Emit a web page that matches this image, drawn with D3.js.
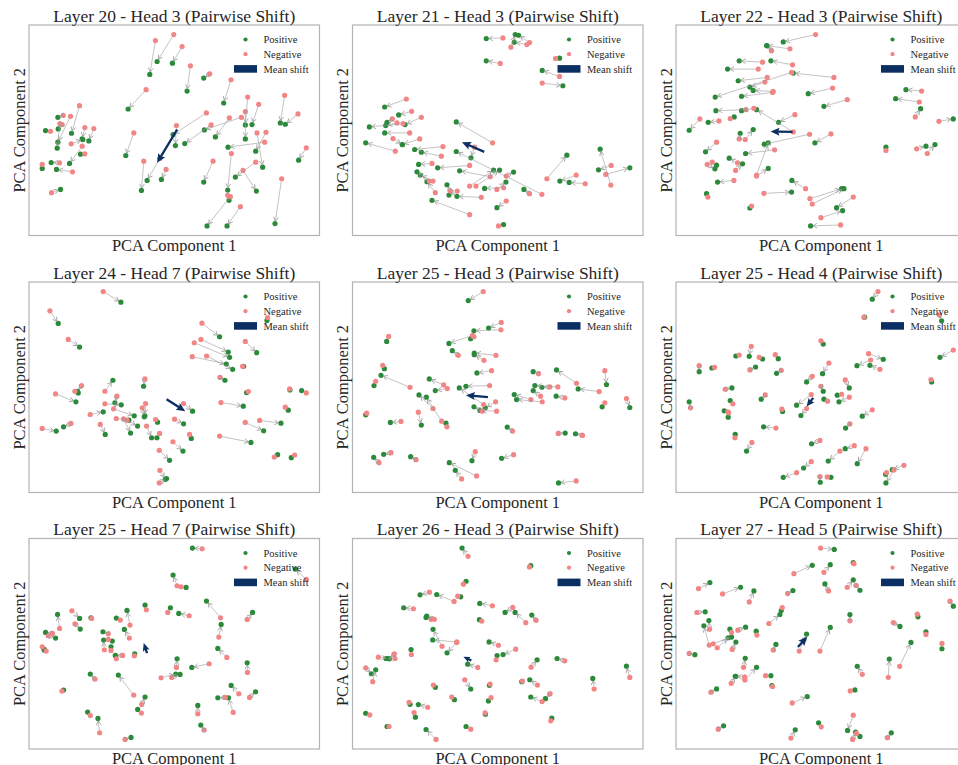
<!DOCTYPE html>
<html>
<head>
<meta charset="utf-8">
<script src="https://cdn.jsdelivr.net/npm/d3@7"></script>
<style>
  body { margin: 0; background: #fff; }
</style>
</head>
<body>
<div id="chart"></div>
<script>
// panel titles, row by row
const titles = [
    'Layer 20 - Head 3 (Pairwise Shift)', 'Layer 21 - Head 3 (Pairwise Shift)', 'Layer 22 - Head 3 (Pairwise Shift)',
    'Layer 24 - Head 7 (Pairwise Shift)', 'Layer 25 - Head 3 (Pairwise Shift)', 'Layer 25 - Head 4 (Pairwise Shift)',
    'Layer 25 - Head 7 (Pairwise Shift)', 'Layer 26 - Head 3 (Pairwise Shift)', 'Layer 27 - Head 5 (Pairwise Shift)'
]

const legendLabels = ['Positive', 'Negative', 'Mean shift']

// each pair: [negative PC1, negative PC2, positive PC1, positive PC2]
const pairsL20H3 = [
    [5.20,-1.04,4.70,-1.85],[4.65,-1.22,4.48,-2.24],[5.45,-1.40,5.16,-1.90],[5.70,-1.98,5.60,-2.74],
    [6.28,-2.22,6.10,-2.35],[4.37,-2.70,3.83,-3.28],[6.92,-2.40,6.70,-3.10],[7.42,-2.92,7.35,-3.76],
    [7.75,-3.14,7.55,-3.75],[7.35,-3.36,7.35,-4.18],[8.53,-2.87,8.40,-3.70],[8.93,-3.43,8.55,-3.74],
    [6.87,-3.55,6.45,-4.12],[7.23,-3.53,6.12,-3.91],[6.32,-3.76,5.53,-4.32],[6.18,-3.40,5.18,-4.05],
    [5.28,-3.78,5.25,-4.38],[7.70,-4.00,7.87,-5.03],[7.97,-3.98,7.66,-4.55],[7.93,-4.28,6.83,-4.43],
    [9.18,-4.45,8.95,-4.82],[6.93,-4.62,6.82,-5.72],[6.38,-4.85,6.10,-5.48],[7.66,-4.88,7.05,-5.33],
    [7.28,-5.13,7.68,-5.75],[6.90,-5.92,6.20,-6.80],[7.20,-6.22,6.80,-6.80],[8.44,-5.38,8.24,-6.73],
    [6.82,-5.88,6.86,-6.03],[4.00,-4.00,3.76,-4.68],[4.30,-4.85,4.23,-5.73],[4.78,-4.77,4.40,-5.43],
    [4.97,-5.10,4.83,-5.40],[2.37,-3.18,2.13,-4.01],[1.88,-3.47,1.72,-3.53],[2.10,-3.50,1.72,-4.28],
    [1.85,-3.75,1.73,-3.88],[1.78,-3.72,1.70,-4.46],[1.50,-3.95,1.35,-3.93],[2.53,-3.84,2.45,-4.18],
    [2.80,-3.87,2.65,-4.24],[2.12,-4.33,2.47,-4.20],[2.53,-4.63,2.40,-4.64],[2.45,-4.40,2.07,-4.92],
    [1.77,-4.90,1.52,-4.89],[2.16,-5.17,1.68,-5.10],[1.25,-4.95,1.25,-5.07],[1.53,-5.80,1.80,-5.70]
]

const pairsL21H3 = [
    [5.18,-1.14,4.68,-1.16],[5.98,-1.28,5.65,-1.06],[5.90,-1.34,5.52,-1.27],[5.42,-1.42,5.55,-1.04],
    [5.10,-1.91,4.68,-1.83],[6.76,-1.76,6.88,-1.75],[6.88,-2.30,6.36,-2.12],[6.36,-2.50,6.98,-2.58],
    [2.28,-2.98,1.63,-3.22],[2.44,-3.35,2.05,-3.46],[2.73,-3.53,2.24,-3.75],[1.86,-3.58,1.70,-3.68],
    [2.00,-3.70,1.66,-3.78],[2.18,-3.72,1.17,-3.82],[2.38,-4.00,1.63,-4.00],[1.88,-4.17,2.16,-4.35],
    [2.68,-4.18,2.16,-4.35],[1.95,-4.55,1.06,-4.30],[3.38,-4.41,2.53,-4.50],[3.33,-4.70,2.73,-4.58],
    [4.87,-4.30,3.78,-3.67],[4.33,-4.43,4.22,-4.75],[4.18,-4.98,3.22,-5.05],[3.05,-4.92,2.65,-4.95],
    [2.97,-5.45,2.60,-5.17],[3.08,-5.45,2.70,-5.27],[3.15,-5.80,2.90,-5.47],[3.60,-5.75,3.50,-5.56],
    [3.81,-5.75,3.56,-5.87],[4.53,-5.94,3.80,-5.91],[4.18,-6.46,3.05,-6.03],[5.28,-6.05,5.00,-6.25],
    [5.05,-6.80,5.20,-6.76],[4.37,-5.60,5.08,-5.12],[4.18,-5.60,4.90,-5.12],[4.80,-5.32,3.88,-5.14],
    [6.35,-5.85,3.78,-4.56],[5.98,-5.83,5.81,-5.70],[5.00,-5.70,5.27,-5.48],[5.20,-5.65,4.63,-5.67],
    [5.28,-5.30,5.50,-5.18],[6.50,-5.38,7.10,-4.67],[7.38,-5.27,6.89,-5.45],[7.65,-5.53,7.17,-5.49],
    [8.42,-5.57,8.10,-4.49],[8.27,-5.25,8.99,-5.05],[8.43,-4.98,8.05,-5.11]
]

const pairsL22H3 = [
    [5.27,-1.04,4.30,-1.26],[4.50,-1.47,3.80,-1.37],[3.95,-1.53,3.82,-1.38],[3.68,-1.87,2.98,-1.83],
    [4.58,-1.95,3.93,-1.83],[3.55,-2.08,2.63,-2.08],[3.82,-2.33,2.95,-2.43],[3.75,-2.47,3.30,-2.62],
    [4.55,-2.18,2.26,-2.92],[5.82,-2.33,4.60,-2.20],[4.00,-2.75,3.40,-2.72],[3.98,-2.78,3.05,-2.90],
    [5.78,-2.65,5.05,-2.82],[6.22,-3.00,5.52,-3.20],[3.18,-3.30,2.28,-3.33],[3.42,-3.26,3.05,-3.33],
    [4.65,-3.45,4.16,-3.68],[4.60,-3.97,3.50,-3.30],[2.71,-3.57,2.83,-3.52],[2.37,-3.64,2.05,-3.68],
    [1.80,-3.58,1.48,-3.92],[3.16,-4.20,3.40,-3.90],[2.98,-4.18,3.01,-4.01],[2.30,-4.28,1.97,-4.57],
    [4.04,-4.51,3.17,-4.62],[5.09,-4.04,3.73,-4.34],[5.73,-4.03,5.25,-4.30],[3.50,-5.27,3.85,-4.30],
    [2.93,-4.90,2.68,-4.76],[2.17,-4.88,2.30,-4.97],[2.87,-5.13,3.08,-4.93],[2.02,-4.95,2.25,-5.08],
    [3.50,-5.30,3.85,-5.07],[2.82,-5.43,2.33,-5.48],[3.72,-5.82,4.55,-5.78],[2.04,-5.93,2.00,-5.83],
    [3.35,-6.20,3.30,-6.26],[4.97,-5.68,4.56,-5.43],[5.10,-5.98,6.05,-5.68],[5.17,-6.14,6.12,-5.68],
    [6.40,-5.93,5.90,-6.25],[5.43,-6.55,6.08,-6.34],[6.02,-6.77,5.12,-6.80],[7.38,-4.53,7.38,-4.43],
    [8.45,-2.74,7.98,-2.70],[8.38,-3.07,7.67,-2.97],[8.26,-3.52,8.42,-3.27],[8.97,-3.65,9.40,-3.58],
    [8.30,-4.48,8.58,-4.40],[8.62,-4.62,8.85,-4.35]
]

const pairsL24H7 = [
    [3.07,-1.00,3.60,-1.32],[1.47,-1.58,1.72,-1.96],[2.02,-2.44,2.36,-2.67],[6.03,-1.95,6.56,-2.36],
    [6.00,-2.44,6.82,-2.82],[5.80,-2.54,6.86,-2.98],[5.74,-2.96,6.76,-3.18],[6.17,-2.94,6.95,-3.34],
    [7.33,-2.50,7.67,-2.84],[7.25,-3.25,7.28,-3.25],[6.57,-3.58,6.72,-3.67],[8.00,-1.78,7.98,-1.87],
    [3.12,-4.00,3.36,-3.67],[4.32,-3.63,4.28,-3.85],[2.42,-3.83,2.30,-4.00],[2.22,-4.00,2.32,-4.05],
    [1.64,-4.08,2.25,-4.32],[3.48,-4.15,3.42,-4.35],[3.12,-4.38,3.61,-4.41],[2.68,-4.70,3.07,-4.62],
    [3.38,-4.53,4.00,-4.74],[4.34,-4.37,4.32,-4.74],[4.24,-4.50,4.30,-4.77],[3.46,-4.82,3.84,-4.87],
    [3.68,-4.83,3.89,-5.26],[3.78,-4.87,4.10,-5.05],[2.98,-5.00,3.13,-5.30],[4.37,-5.05,4.52,-5.40],
    [4.76,-5.27,4.68,-5.40],[4.64,-4.85,4.70,-4.93],[5.21,-4.84,5.48,-4.98],[5.48,-4.37,5.75,-4.60],
    [5.66,-5.30,5.71,-5.42],[1.24,-5.12,1.66,-5.20],[2.10,-4.97,1.88,-5.07],[4.75,-5.78,5.06,-6.08],
    [5.16,-5.52,5.46,-5.80],[4.77,-6.38,4.93,-6.65],[4.75,-6.76,4.97,-6.63],[6.60,-4.34,7.27,-4.45],
    [7.42,-4.01,7.37,-4.04],[7.33,-4.94,7.88,-5.19],[7.76,-4.88,8.40,-4.96],[6.56,-5.35,7.50,-5.54],
    [8.53,-4.48,8.62,-4.57],[8.66,-3.93,8.67,-3.96],[9.16,-4.05,9.02,-3.98],[8.20,-5.98,8.30,-5.91],
    [8.81,-5.92,8.71,-6.00]
]

const pairsL25H3 = [
    [4.60,-1.00,4.15,-1.27],[5.14,-1.93,4.76,-2.10],[5.13,-2.15,4.32,-2.18],[4.28,-2.32,3.57,-2.56],
    [4.32,-2.36,4.22,-2.42],[3.85,-2.92,3.67,-2.78],[4.98,-2.92,4.33,-2.85],[4.62,-3.07,4.33,-2.90],
    [4.85,-3.38,4.41,-3.45],[1.76,-2.35,1.70,-2.50],[1.58,-3.22,1.63,-3.32],[2.40,-3.88,1.53,-3.52],
    [1.37,-3.70,1.32,-3.83],[1.10,-4.66,1.07,-4.71],[3.41,-3.81,2.98,-3.63],[3.52,-3.92,3.16,-3.98],
    [4.79,-3.83,4.08,-3.85],[4.61,-4.40,3.88,-3.90],[2.65,-4.63,2.74,-5.02],[2.13,-4.91,1.81,-4.94],
    [3.09,-4.52,2.67,-4.11],[3.35,-4.90,2.89,-4.18],[3.51,-5.07,3.48,-4.96],[4.97,-4.32,4.66,-4.50],
    [5.00,-4.60,4.50,-4.58],[4.57,-4.60,4.32,-4.47],[5.48,-5.20,5.32,-5.08],[6.26,-3.47,6.10,-3.41],
    [6.84,-3.87,6.15,-3.83],[7.40,-3.76,6.80,-3.36],[8.08,-4.01,7.45,-3.93],[8.25,-3.38,8.30,-3.80],
    [8.25,-4.35,8.17,-4.47],[8.90,-4.22,9.00,-4.49],[6.03,-4.25,5.53,-4.10],[6.37,-4.32,5.60,-4.25],
    [6.60,-3.87,6.36,-3.88],[6.32,-4.15,6.10,-3.98],[7.05,-4.20,6.79,-4.15],[6.85,-5.27,7.06,-5.26],
    [7.58,-5.33,7.37,-5.28],[1.83,-5.85,1.61,-5.90],[1.47,-6.15,1.31,-5.99],[2.58,-6.06,2.42,-5.97],
    [4.36,-5.82,4.26,-6.09],[5.51,-5.91,5.15,-6.02],[3.95,-6.64,3.76,-6.38],[4.40,-6.55,3.58,-6.15],
    [7.39,-6.70,6.86,-6.76]
]

const pairsL25H4 = [
    [7.14,-1.00,6.97,-1.23],[6.72,-1.77,6.74,-1.77],[8.98,-1.70,9.05,-1.88],[9.40,-2.76,9.00,-2.98],
    [8.73,-3.65,8.75,-3.72],[5.43,-2.48,5.50,-2.58],[3.34,-2.65,3.28,-2.95],[2.98,-2.91,2.88,-2.94],
    [3.58,-2.98,3.68,-3.03],[4.06,-2.90,4.15,-3.02],[3.30,-3.36,3.47,-3.27],[1.78,-3.23,1.78,-3.41],
    [2.24,-3.28,2.16,-3.30],[4.24,-3.37,4.10,-3.46],[6.86,-2.87,7.30,-3.04],[6.92,-3.06,6.51,-3.23],
    [7.20,-3.34,6.90,-3.22],[5.67,-3.15,5.48,-3.47],[5.17,-3.55,5.00,-3.72],[6.16,-3.66,6.28,-3.90],
    [5.43,-3.85,5.50,-4.00],[5.63,-4.30,5.52,-4.24],[6.05,-4.09,5.92,-4.12],[6.28,-4.18,5.97,-4.32],
    [5.14,-4.10,4.70,-4.42],[5.00,-4.52,4.83,-4.73],[2.56,-3.94,2.76,-3.90],[2.79,-4.38,2.71,-4.28],
    [2.64,-4.62,2.53,-4.59],[2.66,-4.65,2.65,-4.78],[1.52,-4.50,1.48,-4.32],[3.76,-4.11,3.64,-4.24],
    [4.26,-4.54,4.28,-4.61],[4.08,-5.11,3.71,-5.07],[2.85,-5.40,2.86,-5.30],[3.36,-5.54,3.20,-5.80],
    [6.97,-4.56,6.67,-4.75],[6.30,-4.98,6.17,-5.11],[5.40,-5.48,5.15,-5.58],[6.43,-5.64,6.16,-5.73],
    [6.00,-5.80,5.65,-6.10],[6.78,-5.73,6.52,-6.18],[5.14,-6.12,4.91,-6.31],[4.70,-6.45,4.30,-6.59],
    [5.40,-6.57,5.41,-6.74],[5.62,-6.58,5.73,-6.59],[7.92,-6.23,7.57,-6.36],[7.40,-6.45,7.37,-6.50],
    [7.62,-6.37,7.38,-6.76]
]

const pairsL25H7 = [
    [6.03,-1.11,5.74,-1.09],[9.15,-2.03,8.82,-1.72],[5.28,-2.22,5.16,-1.90],[5.40,-2.25,5.55,-2.27],
    [4.36,-2.94,4.32,-2.80],[5.00,-3.02,5.08,-2.88],[5.64,-3.12,5.33,-3.05],[6.58,-3.18,6.16,-2.68],
    [6.53,-3.76,6.60,-3.38],[7.38,-3.23,7.54,-3.02],[1.76,-3.50,1.70,-3.08],[2.13,-2.97,2.36,-3.20],
    [2.22,-3.36,2.38,-3.52],[2.72,-3.20,2.70,-3.18],[1.55,-3.65,1.34,-3.62],[1.42,-3.72,1.64,-3.79],
    [1.24,-4.05,1.30,-4.15],[1.36,-4.18,1.30,-4.13],[3.58,-3.25,3.46,-3.19],[3.87,-3.40,3.78,-2.96],
    [3.85,-3.79,3.70,-3.53],[3.22,-3.66,3.06,-3.60],[3.22,-3.83,3.34,-3.88],[3.10,-4.14,3.08,-3.85],
    [3.30,-4.16,3.30,-4.05],[3.65,-4.31,3.43,-4.31],[3.46,-4.41,3.44,-4.32],[4.00,-4.32,4.01,-4.26],
    [6.77,-4.37,6.50,-4.10],[6.24,-4.56,5.72,-4.67],[5.26,-4.67,5.28,-4.41],[4.80,-4.98,5.24,-4.87],
    [5.12,-4.97,5.37,-4.88],[7.39,-4.82,7.38,-4.53],[2.82,-5.02,2.68,-4.87],[1.83,-5.38,1.88,-5.35],
    [3.98,-5.50,3.52,-4.90],[4.22,-5.78,4.32,-5.56],[4.21,-6.04,4.10,-5.93],[2.68,-6.11,2.60,-6.01],
    [2.96,-6.63,2.91,-6.20],[3.72,-6.83,3.90,-6.77],[5.90,-6.06,5.90,-5.81],[6.09,-6.55,5.99,-6.40],
    [6.72,-5.57,6.50,-5.58],[7.13,-5.46,6.90,-5.21],[6.96,-6.02,6.82,-5.58],[7.45,-5.57,7.63,-5.40]
]

const pairsL26H3 = [
    [4.14,-1.32,3.96,-1.07],[5.98,-1.64,6.02,-1.60],[4.00,-2.16,4.08,-2.07],[2.98,-2.40,2.70,-2.48],
    [3.72,-2.68,3.20,-2.47],[3.83,-2.52,3.92,-2.54],[2.50,-2.90,2.21,-2.87],[4.87,-2.81,4.49,-2.74],
    [5.48,-2.86,5.25,-3.01],[5.87,-3.32,5.55,-3.01],[6.18,-3.25,6.05,-3.09],[4.55,-3.27,4.48,-3.23],
    [3.13,-3.22,2.90,-3.12],[3.03,-3.22,2.88,-3.16],[3.80,-3.90,3.08,-3.84],[3.36,-4.03,3.09,-3.52],
    [3.80,-3.92,3.51,-4.23],[5.05,-4.00,4.77,-3.90],[5.57,-4.12,5.19,-4.28],[4.98,-4.44,5.01,-4.31],
    [1.93,-4.26,1.78,-4.41],[1.45,-4.36,1.74,-4.40],[1.95,-4.40,1.68,-4.40],[2.44,-4.28,2.43,-4.13],
    [1.07,-4.68,1.24,-4.86],[1.28,-5.10,1.37,-4.74],[4.43,-4.67,4.13,-4.57],[6.03,-4.66,6.21,-4.44],
    [7.04,-4.47,6.81,-4.40],[8.99,-4.97,8.89,-4.63],[7.92,-5.32,7.88,-5.00],[4.04,-5.04,4.22,-5.32],
    [3.10,-5.20,3.16,-5.27],[4.80,-5.17,4.78,-5.21],[5.77,-5.08,5.75,-5.10],[6.22,-5.20,5.99,-5.04],
    [3.65,-5.56,3.73,-5.64],[4.83,-5.58,4.75,-5.68],[6.60,-5.46,6.46,-5.61],[6.36,-5.70,6.02,-5.56],
    [2.37,-5.72,2.40,-5.78],[2.93,-5.87,2.65,-5.79],[2.52,-6.03,2.56,-6.17],[4.65,-6.04,4.66,-6.08],
    [1.19,-6.10,1.07,-6.05],[1.77,-6.45,1.71,-6.45],[6.62,-6.28,6.65,-6.20],[4.22,-6.53,4.08,-6.45],
    [3.18,-6.84,2.88,-6.54]
]

const pairsL27H5 = [
    [5.42,-1.08,5.83,-1.12],[4.62,-1.85,5.17,-1.60],[5.52,-1.81,5.71,-1.58],[6.42,-1.55,6.40,-1.52],
    [1.76,-2.30,2.10,-2.12],[2.48,-2.46,3.02,-2.26],[3.28,-2.70,3.42,-2.37],[4.43,-2.45,4.59,-2.36],
    [5.66,-2.37,5.55,-2.16],[6.22,-2.26,6.40,-2.04],[6.48,-2.20,6.60,-2.35],[9.30,-2.68,9.40,-2.83],
    [1.71,-3.02,1.96,-3.00],[2.09,-3.52,2.07,-3.26],[2.08,-4.00,1.92,-3.42],[2.75,-3.62,2.70,-3.52],
    [2.94,-3.55,3.17,-3.46],[3.51,-3.70,3.49,-3.58],[3.87,-3.35,4.20,-3.08],[4.27,-2.87,4.24,-2.96],
    [6.30,-3.27,6.30,-3.08],[7.60,-3.32,7.80,-3.44],[8.32,-3.07,8.34,-3.15],[8.58,-3.68,8.58,-3.60],
    [9.06,-3.95,9.06,-4.11],[1.48,-4.25,1.65,-4.29],[2.20,-3.96,2.75,-3.76],[2.32,-4.08,2.65,-3.78],
    [2.77,-4.13,2.88,-3.91],[4.00,-4.15,4.08,-3.98],[4.78,-4.18,5.00,-3.67],[5.40,-4.18,5.71,-3.47],
    [7.79,-4.64,8.13,-3.92],[7.45,-4.97,7.48,-4.42],[6.67,-4.88,6.52,-4.64],[3.11,-4.67,3.16,-4.40],
    [3.15,-5.05,3.50,-4.67],[2.74,-5.15,2.88,-4.94],[3.14,-4.96,2.86,-4.94],[3.77,-4.92,3.93,-4.92],
    [3.98,-5.25,3.96,-5.22],[2.13,-5.42,2.30,-5.32],[6.31,-5.38,6.45,-5.35],[4.57,-5.74,5.02,-5.55],
    [2.35,-6.53,2.51,-6.43],[4.53,-6.80,4.66,-6.55],[5.44,-6.46,5.36,-6.34],[6.40,-6.11,6.23,-6.57],
    [6.50,-6.66,6.60,-6.75],[6.38,-6.84,6.47,-6.62],[7.42,-6.79,7.54,-6.64]
]

// mean shift arrow per panel: [from PC1, from PC2, to PC1, to PC2]
const meanShifts = [
    [5.30,-3.90,4.70,-4.90], [4.62,-4.57,3.95,-4.28], [4.58,-3.97,3.92,-3.96],
    [4.97,-4.24,5.53,-4.60], [4.74,-4.18,4.08,-4.12], [5.20,-4.20,5.00,-4.46],
    [4.38,-4.24,4.28,-3.94], [4.24,-4.46,4.00,-4.35], [4.74,-4.06,5.02,-3.75]
]

const panelPairs = [pairsL20H3, pairsL21H3, pairsL22H3, pairsL24H7, pairsL25H3,
    pairsL25H4, pairsL25H7, pairsL26H3, pairsL27H5]

const posColor = '#2b8a3a'
const negColor = '#f28585'
const shiftColor = '#0c2f63'
const lineColor = '#9a9a9a'
const serif = '"Liberation Serif", "Times New Roman", Times, "DejaVu Serif", serif'

const config = {
    width: 958,
    height: 765,
    colLeft: [29, 352.5, 676],
    rowTop: [25, 282, 538.5],
    panelWidth: 290.5,
    panelHeight: 210.5
}

const svg = d3.select('#chart').append('svg')
    .attr('width', config.width)
    .attr('height', config.height)
    .attr('font-family', serif)

// small open arrowhead for the pair lines
svg.append('defs').append('marker')
    .attr('id', 'chev')
    .attr('markerUnits', 'userSpaceOnUse')
    .attr('markerWidth', 8)
    .attr('markerHeight', 8)
    .attr('refX', 4.5)
    .attr('refY', 3)
    .attr('orient', 'auto')
    .append('path')
    .attr('d', 'M0.5,0.6 L4.5,3 L0.5,5.4')
    .attr('fill', 'none')
    .attr('stroke', lineColor)
    .attr('stroke-width', 0.8)

function shorten(x1, y1, x2, y2, a, b) {
    const L = Math.hypot(x2 - x1, y2 - y1)
    if (L < a + b + 0.5) return null
    const ux = (x2 - x1) / L, uy = (y2 - y1) / L
    return [x1 + ux * a, y1 + uy * a, x2 - ux * b, y2 - uy * b]
}

// quiver-like filled arrow polygon in pixel space
function arrowPath(sx, sy, ex, ey) {
    const L = Math.hypot(ex - sx, ey - sy)
    const ux = (ex - sx) / L, uy = (ey - sy) / L
    const nx = -uy, ny = ux
    const k = Math.min(1, L / 12)
    const w = 2.3, hl = 9 * k, ha = 7.8 * k, hw = 8 * k
    const pt = (a, b) => [sx + ux * a + nx * b, sy + uy * a + ny * b]
    const pts = [pt(0, w / 2), pt(L - ha, w / 2), pt(L - hl, hw / 2), pt(L, 0),
        pt(L - hl, -hw / 2), pt(L - ha, -w / 2), pt(0, -w / 2)]
    return 'M' + pts.map(p => p.join(',')).join('L') + 'Z'
}

function addText(sel, size) {
    return sel.append('text')
        .style('font-family', serif)
        .style('font-size', size)
        .attr('fill', '#262626')
}

panelPairs.forEach((pairs, i) => {
    const left = config.colLeft[i % 3]
    const top = config.rowTop[Math.floor(i / 3)]
    const w = config.panelWidth, h = config.panelHeight

    // axis limits: data extent with 5% margins
    const xExt = d3.extent(pairs.flatMap(d => [d[0], d[2]]))
    const yExt = d3.extent(pairs.flatMap(d => [d[1], d[3]]))
    const dx = (xExt[1] - xExt[0]) * 0.05, dy = (yExt[1] - yExt[0]) * 0.05
    const xScale = d3.scaleLinear().domain([xExt[0] - dx, xExt[1] + dx]).range([0, w])
    const yScale = d3.scaleLinear().domain([yExt[0] - dy, yExt[1] + dy]).range([h, 0])

    const g = svg.append('g').attr('transform', `translate(${left},${top})`)

    g.append('rect')
        .attr('width', w)
        .attr('height', h)
        .attr('fill', 'none')
        .attr('stroke', '#b3b3b3')
        .attr('stroke-width', 1.2)

    // positive and negative points
    g.selectAll('.pos')
        .data(pairs)
        .join('circle')
        .attr('class', 'pos')
        .attr('cx', d => xScale(d[2]))
        .attr('cy', d => yScale(d[3]))
        .attr('r', 2.6)
        .attr('fill', posColor)

    g.selectAll('.neg')
        .data(pairs)
        .join('circle')
        .attr('class', 'neg')
        .attr('cx', d => xScale(d[0]))
        .attr('cy', d => yScale(d[1]))
        .attr('r', 2.6)
        .attr('fill', negColor)

    // pairwise shift lines, negative -> positive
    g.selectAll('.shift')
        .data(pairs.map(d => shorten(xScale(d[0]), yScale(d[1]), xScale(d[2]), yScale(d[3]), 2.5, 2.5)).filter(d => d))
        .join('line')
        .attr('class', 'shift')
        .attr('x1', d => d[0])
        .attr('y1', d => d[1])
        .attr('x2', d => d[2])
        .attr('y2', d => d[3])
        .attr('stroke', lineColor)
        .attr('stroke-width', 0.8)
        .attr('stroke-opacity', 0.75)
        .attr('marker-end', 'url(#chev)')

    const m = meanShifts[i]
    g.append('path')
        .attr('d', arrowPath(xScale(m[0]), yScale(m[1]), xScale(m[2]), yScale(m[3])))
        .attr('fill', shiftColor)

    // legend
    const lg = g.append('g').attr('transform', `translate(${w - 74},14.5)`)
    lg.append('circle').attr('cx', 0).attr('cy', 0).attr('r', 2.1).attr('fill', posColor)
    lg.append('circle').attr('cx', 0).attr('cy', 14.7).attr('r', 2.1).attr('fill', negColor)
    lg.append('rect').attr('x', -11.5).attr('y', 25.6).attr('width', 23).attr('height', 7.6).attr('fill', shiftColor)
    legendLabels.forEach((label, j) => {
        addText(lg, '10.5px')
            .attr('x', 18)
            .attr('y', j * 14.7 + 3.6)
            .text(label)
    })

    // titles and axis labels
    addText(g, '17.5px')
        .attr('x', w / 2)
        .attr('y', -3.5)
        .attr('text-anchor', 'middle')
        .text(titles[i])

    addText(g, '16.5px')
        .attr('x', w / 2)
        .attr('y', h + 15)
        .attr('text-anchor', 'middle')
        .text('PCA Component 1')

    addText(g, '16.5px')
        .attr('transform', `translate(-4.5,${h / 2}) rotate(-90)`)
        .attr('text-anchor', 'middle')
        .text('PCA Component 2')
})
</script>
</body>
</html>
